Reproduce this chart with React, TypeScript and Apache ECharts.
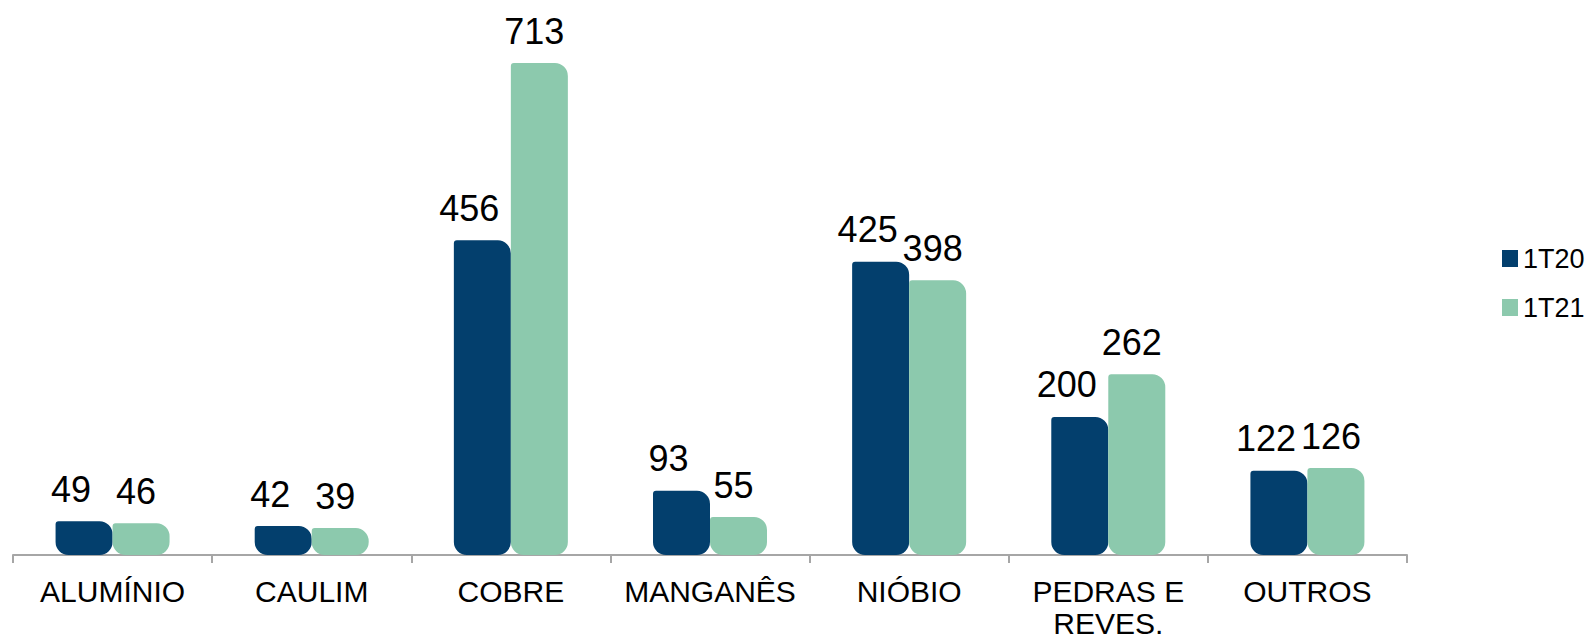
import React, { useEffect, useRef } from "react";
import * as echarts from "echarts";

const categories = ["ALUMÍNIO", "CAULIM", "COBRE", "MANGANÊS", "NIÓBIO", "PEDRAS E\nREVES.", "OUTROS"];
const series1T20 = [49, 42, 456, 93, 425, 200, 122];
const series1T21 = [46, 39, 713, 55, 398, 262, 126];
const seriesNames = ["1T20", "1T21"];

const FONT = "'Liberation Sans', Arial, sans-serif";

export default function App() {
  const ref = useRef<HTMLDivElement>(null);
  useEffect(() => {
    if (!ref.current) return;
    const chart = echarts.init(ref.current, null, { renderer: "svg" });
    const mkLabel = (dx: number) => ({
      show: true,
      position: "top",
      distance: 14,
      offset: [dx, 0],
      fontSize: 36,
      color: "#000",
      fontFamily: FONT,
    });
    chart.setOption({
      animation: false,
      backgroundColor: "#fff",
      textStyle: { fontFamily: FONT },
      grid: {
        left: 13,
        right: 186,
        top: 63,
        bottom: 84,
        containLabel: false,
        outerBoundsMode: "none",
      },
      legend: {
        orient: "vertical",
        left: 1497,
        top: 240,
        itemWidth: 16,
        itemHeight: 17,
        itemGap: 22,
        icon: "rect",
        textStyle: { fontSize: 27, color: "#000", fontFamily: FONT },
        data: seriesNames,
      },
      xAxis: {
        type: "category",
        data: categories,
        axisLine: { lineStyle: { color: "#a6a6a6", width: 2 } },
        axisTick: { show: true, length: 8, lineStyle: { color: "#a6a6a6", width: 2 } },
        axisLabel: {
          fontSize: 30,
          color: "#000",
          fontFamily: FONT,
          margin: 20,
          lineHeight: 32,
          interval: 0,
        },
      },
      yAxis: {
        type: "value",
        min: 0,
        max: 713,
        show: false,
        splitLine: { show: false },
      },
      series: [
        {
          name: seriesNames[0],
          type: "bar",
          data: series1T20,
          barWidth: 57,
          barGap: "0%",
          itemStyle: { color: "#033f6d", borderRadius: [3, 13, 13, 13] },
          label: mkLabel(-13),
        },
        {
          name: seriesNames[1],
          type: "bar",
          data: series1T21,
          barWidth: 57,
          barGap: "0%",
          itemStyle: { color: "#8cc9ad", borderRadius: [3, 13, 13, 13] },
          label: mkLabel(-5),
        },
      ],
    });
    return () => chart.dispose();
  }, []);
  return (
    <div
      ref={ref}
      style={{ position: "fixed", left: 0, top: 0, width: 1593, height: 639 }}
    />
  );
}
